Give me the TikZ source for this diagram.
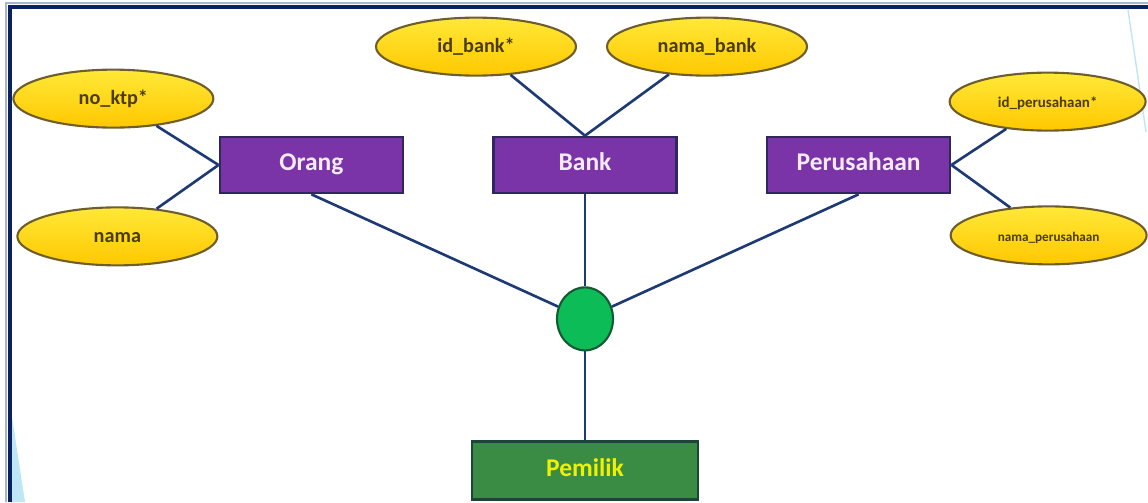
\documentclass[tikz,border=0pt]{standalone}
\usepackage{fontspec}
\setmainfont{Carlito}
\usetikzlibrary{shapes.geometric, positioning}

\definecolor{kuning}{HTML}{FFC800}
\definecolor{kuningterang}{HTML}{FFE838}
\definecolor{kuningtepi}{HTML}{6E5E2C}
\definecolor{teksatribut}{HTML}{4A3C00}
\definecolor{ungu}{HTML}{7A34A8}
\definecolor{ungutepi}{HTML}{2E2860}
\definecolor{putih}{HTML}{F4EAF8}
\definecolor{hijau}{HTML}{0CBC56}
\definecolor{hijautepi}{HTML}{145A34}
\definecolor{hijautua}{HTML}{3A8C44}
\definecolor{hijaugelap}{HTML}{1C4438}
\definecolor{tekskuning}{HTML}{F0F000}
\definecolor{biru}{HTML}{1E3A74}
\definecolor{bingkai}{HTML}{0A2262}
\definecolor{bingkaimuda}{HTML}{A8B4CC}
\definecolor{birumuda}{HTML}{BFE6F6}

\begin{document}
\begin{tikzpicture}
  [
  % entitas
  entitas/.style = {rectangle,
    draw=ungutepi, line width=1.5pt,
    fill=ungu, text=putih,
    font=\bfseries\fontsize{14.5}{16}\selectfont,
    text height=1.8ex, text depth=0.4ex,
    minimum height = 1.12cm,
    minimum width = 3.66cm},
  % pemilik
  pemilik/.style = {fill=hijautua, draw=hijaugelap,
    text=tekskuning,
    minimum height = 1.16cm,
    minimum width = 4.52cm},
  % atribut
  atribut/.style = {ellipse,
    draw=kuningtepi, line width=1.2pt,
    top color=kuningterang, bottom color=kuning,
    text=teksatribut, inner sep=0pt,
    font=\bfseries\fontsize{11.5}{13}\selectfont,
    text height=1.8ex, text depth=0.4ex,
    minimum height = 1.16cm,
    minimum width = 4cm},
  % relasi
  relasi/.style = {ellipse,
    draw=hijautepi, line width=1.2pt, fill=hijau,
    inner sep=0pt,
    minimum width = 1.12cm,
    minimum height = 1.26cm},
  % garis
  garis/.style = {draw=biru, line width=1.5pt},
  ]

  \useasboundingbox (0,0) rectangle (22.96,10.04);

  % bingkai
  \draw [bingkaimuda, line width=1.2pt] (0.12,0) -- (0.12,9.98) -- (22.96,9.98);
  \draw [bingkai, line width=2.2pt] (0.2,0) -- (0.2,9.9) -- (22.96,9.9);
  \fill [birumuda] (0.24,1.7) -- (0.24,0) -- (0.5,0) -- cycle;
  \draw [birumuda, line width=0.8pt] (22.56,9.84) -- (22.92,7.4);

  % nodes
  \node [entitas] (bank) at (11.7,6.74) {Bank};
  \node [entitas, left=1.76cm of bank] (orang) {Orang};
  \node [entitas, right=1.76cm of bank] (perusahaan) {Perusahaan};
  \node [relasi, below=1.84cm of bank] (milik) {};
  \node [entitas, pemilik, below=1.78cm of milik] (pemilik) {Pemilik};

  \node [atribut, above=1.18cm of bank, xshift=-2.18cm] (idbank) {id\_bank*};
  \node [atribut, above=1.18cm of bank, xshift=2.44cm] (namabank) {nama\_bank};
  \node [atribut, above=0.14cm of orang, xshift=-3.96cm] (noktp) {no\_ktp*};
  \node [atribut, below=0.24cm of orang, xshift=-3.88cm] (nama) {nama};
  \node [atribut, above=0.08cm of perusahaan, xshift=3.78cm,
    minimum width=3.92cm, font=\bfseries\fontsize{8.5}{10}\selectfont] (idperusahaan) {id\_perusahaan*};
  \node [atribut, below=0.22cm of perusahaan, xshift=3.8cm,
    minimum width=3.92cm, font=\bfseries\fontsize{7.5}{9}\selectfont] (namaperusahaan) {nama\_perusahaan};

  % path
  \path [garis] (noktp) -- (orang.west);
  \path [garis] (nama) -- (orang.west);
  \path [garis] (idbank) -- (bank.north);
  \path [garis] (namabank) -- (bank.north);
  \path [garis] (perusahaan.east) -- (idperusahaan);
  \path [garis] (perusahaan.east) -- (namaperusahaan);
  \path [garis] (orang.south) -- (milik);
  \path [garis] (bank) -- (milik);
  \path [garis] (perusahaan.south) -- (milik);
  \path [garis] (milik) -- (pemilik);

\end{tikzpicture}
\end{document}
